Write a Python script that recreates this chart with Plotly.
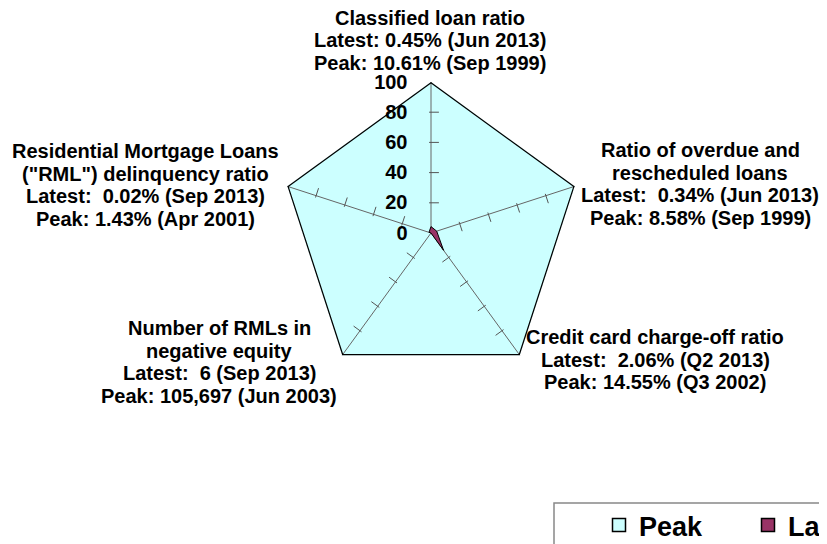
import plotly.graph_objects as go

W, H = 827, 544
OX, OY = 8, 8  # page offset of the figure (default body margin)

# ---- data ----
categories = ["Classified loan ratio", "Overdue & rescheduled", "Credit card charge-off",
              "RMLs in negative equity", "RML delinquency"]
latest_vals = [0.45, 0.34, 2.06, 6, 0.02]
peak_vals = [10.61, 8.58, 14.55, 105697, 1.43]

label_names = [
    ["Classified loan ratio"],
    ["Ratio of overdue and", "rescheduled loans"],
    ["Credit card charge-off ratio"],
    ["Number of RMLs in", "negative equity"],
    ["Residential Mortgage Loans", "(\"RML\") delinquency ratio"],
]
label_latest = ["Latest: 0.45% (Jun 2013)", "Latest:  0.34% (Jun 2013)", "Latest:  2.06% (Q2 2013)",
                "Latest:  6 (Sep 2013)", "Latest:  0.02% (Sep 2013)"]
label_peak = ["Peak: 10.61% (Sep 1999)", "Peak: 8.58% (Sep 1999)", "Peak: 14.55% (Q3 2002)",
              "Peak: 105,697 (Jun 2003)", "Peak: 1.43% (Apr 2001)"]

radial_ticks = [0, 20, 40, 60, 80, 100]
minor_ticks = [20, 40, 60, 80]

# index relative to peak (peak = 100)
peak_idx = [100.0 for _ in peak_vals]
latest_idx = [l / p * 100.0 for l, p in zip(latest_vals, peak_vals)]

FONT = "Liberation Sans, Arial, sans-serif"
PEAK_COLOR = "#CCFFFF"
LATEST_COLOR = "#993366"


def px(x):
    return (x - OX) / W


def py(y):
    return 1 - (y - OY) / H


fig = go.Figure()

fig.add_trace(go.Scatterpolar(
    r=peak_idx + [peak_idx[0]], theta=categories + [categories[0]],
    mode="lines", line=dict(color="black", width=2.5), showlegend=False, hoverinfo="skip"))

fig.add_trace(go.Scatterpolar(
    r=latest_idx + [latest_idx[0]], theta=categories + [categories[0]],
    mode="lines", fill="toself", fillcolor=LATEST_COLOR,
    line=dict(color="black", width=1), showlegend=False, hoverinfo="skip"))

# small tick marks on each spoke
tick_r, tick_t, tick_a = [], [], []
for i, c in enumerate(categories):
    bearing = i * 72
    for t in minor_ticks:
        tick_r.append(t)
        tick_t.append(c)
        tick_a.append(bearing - 90)
fig.add_trace(go.Scatterpolar(
    r=tick_r, theta=tick_t, mode="markers",
    marker=dict(symbol="line-ns", size=7, angle=tick_a, standoff=3,
                line=dict(color="#555555", width=1)),
    showlegend=False, hoverinfo="skip"))

# legend entries
fig.add_trace(go.Scatterpolar(r=[None], theta=[None], mode="markers", name="Peak",
                              marker=dict(symbol="square", size=13, color=PEAK_COLOR,
                                          line=dict(color="black", width=1.5))))
fig.add_trace(go.Scatterpolar(r=[None], theta=[None], mode="markers", name="Latest",
                              marker=dict(symbol="square", size=13, color=LATEST_COLOR,
                                          line=dict(color="black", width=1.5))))

cx, cy, rad = 431, 233, 151
fig.update_layout(
    width=W, height=H,
    margin=dict(l=0, r=0, t=0, b=0, autoexpand=False),
    paper_bgcolor="white",
    font=dict(family=FONT, color="black"),
    polar=dict(
        domain=dict(x=[px(cx - rad), px(cx + rad)],
                    y=[py(cy + rad), py(cy - rad)]),
        bgcolor=PEAK_COLOR,
        gridshape="linear",
        angularaxis=dict(type="category", categoryarray=categories, direction="clockwise",
                         rotation=90, showticklabels=False, ticks="", showline=False,
                         showgrid=True, gridcolor="#666666", gridwidth=1),
        radialaxis=dict(range=[0, 100], tickvals=radial_ticks, angle=90, tickangle=90,
                        side="counterclockwise", showgrid=False, showline=False,
                        ticks="outside", ticklen=16, tickcolor="rgba(0,0,0,0)",
                        tickfont=dict(family=FONT, size=20, color="black", weight="bold")),
    ),
    legend=dict(orientation="h", x=px(554), xanchor="left", y=py(501), yanchor="top",
                borderwidth=0, bgcolor="rgba(0,0,0,0)",
                font=dict(family=FONT, size=27, color="black", weight="bold"),
                indentation=45, entrywidth=59, entrywidthmode="pixels"),
    shapes=[dict(type="rect", xref="paper", yref="paper",
                 x0=px(554), x1=px(860), y0=py(503), y1=py(570),
                 line=dict(color="#888888", width=1.5), fillcolor="white", layer="below")],
)

# category labels
label_pos = [(430, 18), (700, 150), (655, 337), (219, 328), (145, 151)]
spacing = 22.5
annotations = []
for i in range(len(categories)):
    lines = label_names[i] + [label_latest[i], label_peak[i]]
    x0, y0 = label_pos[i]
    for j, txt in enumerate(lines):
        annotations.append(dict(
            text=txt, x=px(x0), y=py(y0 + j * spacing), xref="paper", yref="paper",
            xanchor="center", yanchor="middle", showarrow=False,
            font=dict(family=FONT, size=20, color="black", weight="bold")))
fig.update_layout(annotations=annotations)

fig.write_html("out.html")
